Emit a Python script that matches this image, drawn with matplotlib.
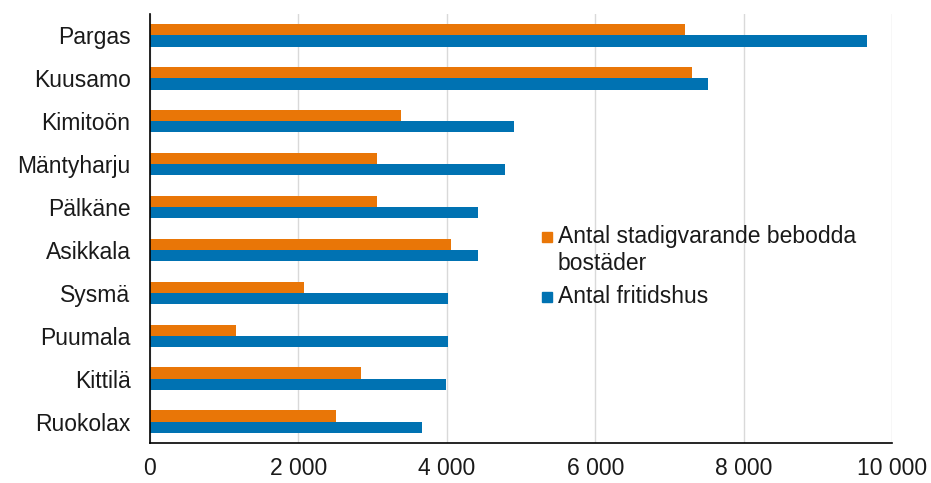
import matplotlib
matplotlib.use("Agg")
import matplotlib.pyplot as plt
from matplotlib.patches import Rectangle
from matplotlib.ticker import FuncFormatter

plt.rcParams['font.family'] = ['Liberation Sans', 'DejaVu Sans']

categories = ["Pargas", "Kuusamo", "Kimitoön", "Mäntyharju", "Pälkäne",
              "Asikkala", "Sysmä", "Puumala", "Kittilä", "Ruokolax"]
permanent = [7205, 7310, 3380, 3060, 3060, 4050, 2070, 1155, 2840, 2500]
holiday = [9660, 7520, 4900, 4790, 4420, 4420, 4010, 4010, 3990, 3670]
series_names = ["Antal stadigvarande bebodda\nbostäder", "Antal fritidshus"]
xticks = [0, 2000, 4000, 6000, 8000, 10000]

orange = "#E97607"
blue = "#0072B2"
text_color = "#1a1a1a"
fs = 16.5

W, H = 931, 483
fig = plt.figure(figsize=(W/100, H/100), dpi=100)
ax = fig.add_axes([150/W, 1-443/H, (892-150)/W, (443-14)/H])

pos = list(range(len(categories)))
h = 0.26
ax.barh([p - h/2 for p in pos], permanent, height=h, color=orange, zorder=3)
ax.barh([p + h/2 for p in pos], holiday, height=h, color=blue, zorder=3)

ax.set_ylim(len(categories) - 0.5, -0.5)
ax.set_xlim(0, 10000)
ax.set_yticks(pos)
ax.set_yticklabels(categories, fontsize=fs, color=text_color)
ax.set_xticks(xticks)
ax.xaxis.set_major_formatter(FuncFormatter(lambda v, p: f"{int(v):,}".replace(",", " ")))
ax.tick_params(axis='x', labelsize=fs, length=0, pad=10, colors=text_color)
ax.tick_params(axis='y', length=0, pad=14)
ax.grid(axis='x', color="#D9D9D9", linewidth=1, zorder=0)
for s in ['top', 'right']:
    ax.spines[s].set_visible(False)
for s in ['left', 'bottom']:
    ax.spines[s].set_color("#000000")
    ax.spines[s].set_linewidth(1.2)
    ax.spines[s].set_zorder(4)

# Legend (manual, handle aligned with first text line)
legend_items = [(series_names[0], orange, 243), (series_names[1], blue, 303)]
line_step = 27
for label, col, base in legend_items:
    fig.patches.append(Rectangle((541.5/W, 1-(base-1)/H), 10/W, 10.5/H,
                                 transform=fig.transFigure, color=col))
    for i, line in enumerate(label.split("\n")):
        fig.text(558/W, 1-(base + i*line_step)/H, line, fontsize=fs, color=text_color,
                 va='baseline', ha='left')

fig.savefig("out.png", dpi=100)
